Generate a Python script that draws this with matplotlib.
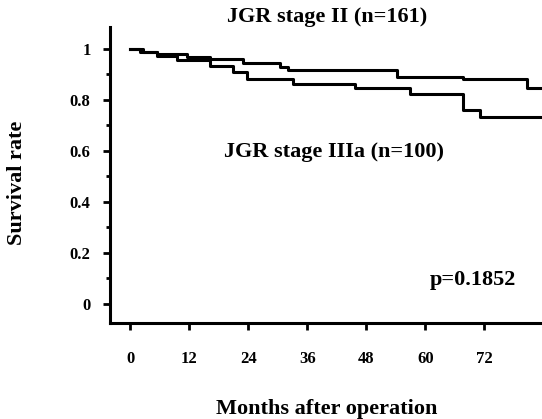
import matplotlib
matplotlib.use('Agg')
import matplotlib.pyplot as plt
import numpy as np

plt.rcParams['font.family'] = 'Liberation Serif'
plt.rcParams['font.weight'] = 'bold'

# step curves (months, survival)
st2_t = [0, 2.6, 5.5, 11.6, 16.3, 23.0, 30.5, 32.1, 54.3, 67.7, 80.7, 84]
st2_s = [1.0, 0.988, 0.98, 0.969, 0.961, 0.945, 0.929, 0.918, 0.890, 0.882, 0.847, 0.847]

st3_t = [0, 2.0, 5.5, 9.6, 16.3, 20.9, 23.8, 33.1, 45.7, 56.9, 67.7, 71.1, 84]
st3_s = [1.0, 0.988, 0.973, 0.957, 0.933, 0.910, 0.882, 0.863, 0.847, 0.824, 0.761, 0.733, 0.733]

xticks = [0, 12, 24, 36, 48, 60, 72]
yticks = [0, 0.2, 0.4, 0.6, 0.8, 1]
ylabels = ['0', '0.2', '0.4', '0.6', '0.8', '1']

fig = plt.figure(figsize=(5.42, 4.19), dpi=100)
ax = fig.add_axes([0.203, 0.229, 0.797, 0.707])

ax.step(st2_t, st2_s, where='post', color='black', lw=2.2)
ax.step(st3_t, st3_s, where='post', color='black', lw=2.2)

ax.set_xlim(-4.07, 83.7)
ax.set_ylim(-0.075, 1.086)

for s in ['top', 'right']:
    ax.spines[s].set_visible(False)
for s in ['left', 'bottom']:
    ax.spines[s].set_linewidth(2.2)

ax.set_xticks(xticks)
ax.set_xticklabels([str(t) for t in xticks])
ax.set_yticks(yticks)
ax.set_yticklabels(ylabels)
ax.set_yticks(np.arange(0.1, 1.0, 0.2), minor=True)
ax.tick_params(axis='y', which='major', length=5, width=2, pad=9, labelsize=12)
ax.tick_params(axis='y', which='minor', length=3, width=2)
ax.tick_params(axis='x', which='major', length=5, width=2, pad=15, labelsize=12)

ax.text(40, 1.125, 'JGR stage II (n=161)', ha='center', va='center',
        fontsize=16, fontweight='bold', clip_on=False)
ax.text(41.5, 0.596, 'JGR stage IIIa (n=100)', ha='center', va='center',
        fontsize=16, fontweight='bold')
ax.text(69.7, 0.094, 'p=0.1852', ha='center', va='center',
        fontsize=16, fontweight='bold')

fig.text(327 / 542, 1 - 409 / 419, 'Months after operation', ha='center', va='center',
         fontsize=16, fontweight='bold')
fig.text(17 / 542, 1 - 183 / 419, 'Survival rate', ha='center', va='center',
         rotation=90, fontsize=16, fontweight='bold')

fig.savefig('out.png', dpi=100)
